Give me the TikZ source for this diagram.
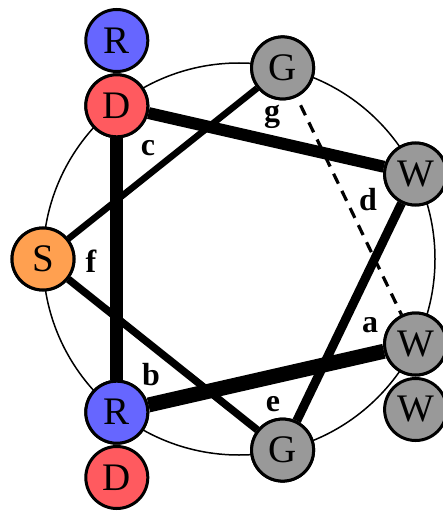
\documentclass[tikz,border=0pt]{standalone}
\usepackage{fontspec}
\setmainfont{Liberation Serif}
\definecolor{rblue}{RGB}{102,102,255}
\definecolor{dred}{RGB}{255,90,95}
\definecolor{ggray}{RGB}{153,153,153}
\definecolor{sorange}{RGB}{255,160,80}
\tikzset{
  res/.style={circle,draw=black,line width=3pt,minimum size=62pt,inner sep=0pt,
    font=\fontsize{39}{39}\selectfont},
  lbl/.style={anchor=base,inner sep=0pt,font=\fontsize{32}{32}\selectfont\bfseries},
  bond/.style={line width=#1},
}
\begin{document}
\begin{tikzpicture}[x=1pt,y=-1pt]
\useasboundingbox (0,0) rectangle (443,513);
\coordinate (ctr) at (239,259);
\draw[line width=1.5pt] (ctr) circle[radius=196];
% residue nodes
\node[res,fill=dred] (D1) at (116.8,105.8) {D};
\node[res,fill=rblue] (R0) at (116.8,40.5) {R};
\node[res,fill=ggray] (G1) at (282.6,67.9) {G};
\node[res,fill=ggray] (W1) at (415.6,174.0) {W};
\node[res,fill=ggray] (W2) at (415.6,344.0) {W};
\node[res,fill=ggray] (W3) at (415.6,409.5) {W};
\node[res,fill=ggray] (G2) at (282.6,450.1) {G};
\node[res,fill=rblue] (R1) at (116.8,412.2) {R};
\node[res,fill=dred] (D0) at (116.8,477.5) {D};
\node[res,fill=sorange] (S1) at (43,259) {S};
% connectors
\draw[bond=13pt] (D1) -- (R1);
\draw[bond=15pt] (R1) -- (W2);
\draw[bond=12pt] (D1) -- (W1);
\draw[bond=9pt] (W1) -- (G2);
\draw[bond=7.5pt] (S1) -- (G2);
\draw[bond=6.5pt] (G1) -- (S1);
\draw[line width=3.2pt,dash pattern=on 11pt off 8pt,shorten <=9pt] (G1) -- (W2);
% redraw nodes on top
\node[res,fill=dred] at (D1) {D};
\node[res,fill=ggray] at (G1) {G};
\node[res,fill=ggray] at (W1) {W};
\node[res,fill=ggray] at (W2) {W};
\node[res,fill=ggray] at (G2) {G};
\node[res,fill=rblue] at (R1) {R};
\node[res,fill=sorange] at (S1) {S};
% labels
\node[lbl] (la) at (370,332) {a};
\node[lbl] (lb) at (151,385) {b};
\node[lbl] (lc) at (148,155) {c};
\node[lbl] (ld) at (368,210) {d};
\node[lbl] (le) at (273,411) {e};
\node[lbl] (lf) at (91,272) {f};
\node[lbl] (lg) at (272,122) {g};
\end{tikzpicture}
\end{document}
